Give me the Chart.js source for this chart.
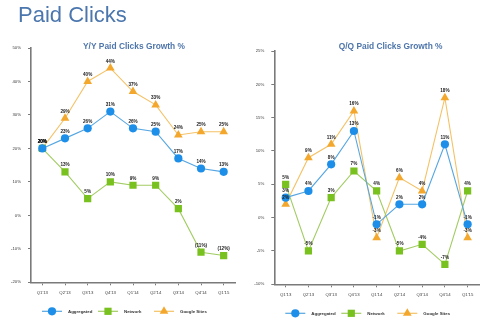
<!DOCTYPE html>
<html>
<head>
<meta charset="utf-8">
<script src="https://cdn.jsdelivr.net/npm/chart.js@4/dist/chart.umd.min.js"></script>
<style>
  html, body { margin: 0; padding: 0; background: #ffffff; }
  #wrap { position: relative; width: 490px; height: 326px; overflow: hidden; background: #fff; }
  #hdr { position: absolute; left: 18px; top: 4px; font: 22px "Liberation Sans", Arial, sans-serif; line-height: 22px; color: #4b77ae; white-space: nowrap; }
  canvas { position: absolute; top: 0; }
  #c1 { left: 0; }
  #c2 { left: 245px; }
</style>
</head>
<body>
<div id="wrap">
  <canvas id="c1" width="245" height="326"></canvas>
  <canvas id="c2" width="245" height="326"></canvas>
  <div id="hdr">Paid Clicks</div>
</div>
<script>
// ---- data ----
const quarters = ["Q1'13","Q2'13","Q3'13","Q4'13","Q1'14","Q2'14","Q3'14","Q4'14","Q1'15"];
const seriesNames = ["Aggregated","Network","Google Sites"];
const yyAggregated  = [20, 23, 26, 31, 26, 25, 17, 14, 13];
const yyNetwork     = [20, 13,  5, 10,  9,  9,  2, -11, -12];
const yyGoogleSites = [20, 29, 40, 44, 37, 33, 24, 25, 25];
const qqAggregated  = [3,  4,  8, 13, -1,  2,  2, 11, -1];
const qqNetwork     = [5, -5,  3,  7,  4, -5, -4, -7,  4];
const qqGoogleSites = [2,  9, 11, 16, -3,  6,  4, 18, -3];
const yyTicks = {min: -20, max: 50, step: 10};
const qqTicks = {min: -10, max: 25, step: 5};

// ---- styles ----
const styles = [
  {line: '#55a6e2', fill: '#1e8fe8', shape: 'circle',   r: 4.1},
  {line: '#a2cc62', fill: '#78c11e', shape: 'rect',     r: 5.1},
  {line: '#f4c266', fill: '#f3a72c', shape: 'triangle', r: 5.0}
];
const FONT = '"Liberation Sans", Arial, sans-serif';

function drawMarker(ctx, shape, x, y, r, color) {
  ctx.save();
  ctx.fillStyle = color;
  ctx.beginPath();
  if (shape === 'circle') {
    ctx.arc(x, y, r, 0, Math.PI * 2);
  } else if (shape === 'rect') {
    const s = Math.SQRT1_2 * r;
    ctx.rect(x - s, y - s, 2 * s, 2 * s);
  } else {
    const a = r * Math.sqrt(3) / 2;
    ctx.moveTo(x, y - r);
    ctx.lineTo(x + a, y + r / 2);
    ctx.lineTo(x - a, y + r / 2);
    ctx.closePath();
  }
  ctx.fill();
  ctx.restore();
}

const extrasPlugin = {
  id: 'extras',
  afterDatasetsDraw(chart, args, opts) {
    const ctx = chart.ctx;
    ctx.save();
    ctx.font = 'bold 4.6px ' + FONT;
    ctx.fillStyle = '#1a1a1a';
    ctx.textAlign = 'center';
    ctx.textBaseline = 'middle';
    chart.data.datasets.forEach((ds, di) => {
      const meta = chart.getDatasetMeta(di);
      meta.data.forEach((pt, i) => {
        ctx.fillText(opts.fmt(ds.data[i]), pt.x, pt.y - 6.8);
      });
    });
    ctx.restore();
  },
  afterDraw(chart, args, opts) {
    const ctx = chart.ctx;
    const ca = chart.chartArea;
    // chart title
    ctx.save();
    ctx.font = 'bold 8.4px ' + FONT;
    ctx.fillStyle = '#4f76ab';
    ctx.textAlign = 'center';
    ctx.textBaseline = 'middle';
    ctx.fillText(opts.title, (ca.left + ca.right) / 2 + opts.titleDx, ca.top + opts.titleDy);
    ctx.restore();
    // legend
    const ly = ca.bottom + opts.legendDy;
    chart.data.datasets.forEach((ds, di) => {
      const st = styles[di];
      const cx = ca.left + 21 + di * 56;
      ctx.save();
      ctx.strokeStyle = st.line;
      ctx.lineWidth = 1.2;
      ctx.beginPath();
      ctx.moveTo(cx - 10, ly);
      ctx.lineTo(cx + 10, ly);
      ctx.stroke();
      ctx.restore();
      drawMarker(ctx, st.shape, cx, ly, st.r, st.fill);
      ctx.save();
      ctx.font = 'bold 4.4px ' + FONT;
      ctx.fillStyle = '#333';
      ctx.textAlign = 'left';
      ctx.textBaseline = 'middle';
      ctx.fillText(ds.label, cx + 16, ly);
      ctx.restore();
    });
  }
};

function makeChart(id, series, ticks, cfg) {
  const datasets = series.map((data, i) => ({
    label: seriesNames[i],
    data: data,
    borderColor: styles[i].line,
    borderWidth: 1.1,
    backgroundColor: styles[i].fill,
    pointBackgroundColor: styles[i].fill,
    pointBorderColor: styles[i].fill,
    pointBorderWidth: 0,
    pointStyle: styles[i].shape,
    pointRadius: styles[i].r,
    pointHoverRadius: styles[i].r,
    tension: 0,
    fill: false
  }));
  return new Chart(document.getElementById(id), {
    type: 'line',
    data: { labels: quarters, datasets: datasets },
    plugins: [extrasPlugin],
    options: {
      responsive: false,
      animation: false,
      devicePixelRatio: 1,
      layout: { padding: { left: 0, right: cfg.padRight, top: cfg.padTop, bottom: 0 } },
      plugins: {
        legend: { display: false },
        title: { display: false },
        tooltip: { enabled: false },
        extras: { title: cfg.title, titleDx: cfg.titleDx, titleDy: cfg.titleDy, legendDy: 29, fmt: cfg.fmt }
      },
      scales: {
        x: {
          offset: true,
          grid: { display: true, drawOnChartArea: false, drawTicks: true, tickLength: 3, color: '#7a7a7a', lineWidth: 1, offset: false },
          border: { display: true, color: '#7a7a7a', width: 1.6 },
          ticks: { color: '#3a3a3a', font: { size: 4.3, family: FONT }, padding: 5, maxRotation: 0, autoSkip: false },
          afterFit: (s) => { s.height = cfg.xHeight; }
        },
        y: {
          min: ticks.min, max: ticks.max,
          grid: { display: true, drawOnChartArea: false, drawTicks: true, tickLength: 3, color: '#7a7a7a', lineWidth: 1 },
          border: { display: true, color: '#7a7a7a', width: 1.6 },
          ticks: { stepSize: ticks.step, color: '#3a3a3a', font: { size: 4.3, family: FONT }, padding: 7, callback: (v) => v + '%' },
          afterFit: (s) => { s.width = cfg.yWidth; }
        }
      }
    }
  });
}

makeChart('c1', [yyAggregated, yyNetwork, yyGoogleSites], yyTicks, {
  title: 'Y/Y Paid Clicks Growth %', titleDx: 1, titleDy: -1.5,
  padRight: 10, padTop: 48, xHeight: 43.7, yWidth: 31,
  fmt: (v) => v < 0 ? '(' + (-v) + '%)' : v + '%'
});
makeChart('c2', [qqAggregated, qqNetwork, qqGoogleSites], qqTicks, {
  title: 'Q/Q Paid Clicks Growth %', titleDx: 14, titleDy: -4,
  padRight: 11, padTop: 51, xHeight: 41.7, yWidth: 29.3,
  fmt: (v) => v + '%'
});
</script>
</body>
</html>
